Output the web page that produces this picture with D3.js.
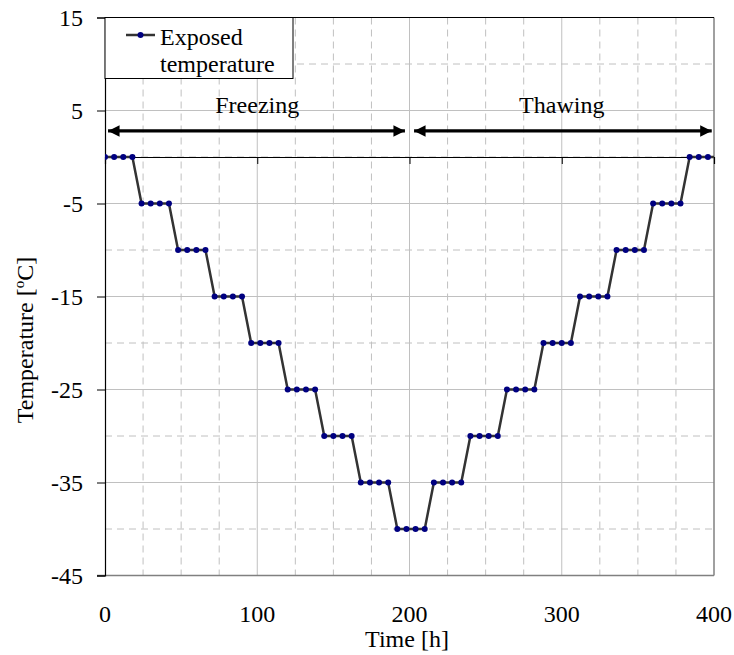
<!DOCTYPE html>
<html>
<head>
<meta charset="utf-8">
<script src="https://cdn.jsdelivr.net/npm/d3@7/dist/d3.min.js"></script>
<style>
body { margin: 0; background: #fff; }
text { font-family: "Times New Roman", "Liberation Serif", serif; fill: #000; }
</style>
</head>
<body>
<script>
var width = 734;
var height = 655;

// exposed temperature, one point every 6 h
var times = [0, 6, 12, 18, 24, 30, 36, 42, 48, 54, 60, 66, 72, 78, 84, 90,
             96, 102, 108, 114, 120, 126, 132, 138, 144, 150, 156, 162, 168, 174, 180, 186,
             192, 198, 204, 210, 216, 222, 228, 234, 240, 246, 252, 258, 264, 270, 276, 282,
             288, 294, 300, 306, 312, 318, 324, 330, 336, 342, 348, 354, 360, 366, 372, 378,
             384, 390, 396, 402];
var temps = [0, 0, 0, 0, -5, -5, -5, -5, -10, -10, -10, -10, -15, -15, -15, -15,
             -20, -20, -20, -20, -25, -25, -25, -25, -30, -30, -30, -30, -35, -35, -35, -35,
             -40, -40, -40, -40, -35, -35, -35, -35, -30, -30, -30, -30, -25, -25, -25, -25,
             -20, -20, -20, -20, -15, -15, -15, -15, -10, -10, -10, -10, -5, -5, -5, -5,
             0, 0, 0, 0];

var xTicks = [0, 100, 200, 300, 400];
var xMinor = [25, 50, 75, 125, 150, 175, 225, 250, 275, 325, 350, 375];
var yTicks = [15, 5, -5, -15, -25, -35, -45];
var yMinor = [10, 0, -10, -20, -30, -40];

var phases = [
  {name: "Freezing", from: 2, to: 197, mid: 100},
  {name: "Thawing", from: 203, to: 398.5, mid: 300}
];

var fs = 24;
var margin = {left: 105, right: 20, top: 17.5, bottom: 79.5};
var x = d3.scaleLinear().domain([0, 400]).range([margin.left, width - margin.right]);
var y = d3.scaleLinear().domain([-45, 15]).range([height - margin.bottom, margin.top]);

var svg = d3.select("body").append("svg")
            .attr("width", width)
            .attr("height", height);

var defs = svg.append("defs");
defs.append("clipPath").attr("id", "plot")
    .append("rect")
    .attr("x", x(0)).attr("y", y(15))
    .attr("width", x(400) - x(0)).attr("height", y(-45) - y(15));
defs.append("marker")
    .attr("id", "head")
    .attr("viewBox", "0 0 10 10")
    .attr("refX", 10).attr("refY", 5)
    .attr("markerWidth", 4.5).attr("markerHeight", 3.6)
    .attr("markerUnits", "strokeWidth")
    .attr("orient", "auto-start-reverse")
    .append("path").attr("d", "M0,0L10,5L0,10z").attr("fill", "#000");

// grid
var grid = svg.append("g");
grid.selectAll(".vmin").data(xMinor).enter().append("line")
    .attr("x1", function(d) { return x(d); }).attr("x2", function(d) { return x(d); })
    .attr("y1", y(15)).attr("y2", y(-45))
    .attr("stroke", "#c0c0c0").attr("stroke-dasharray", "7,5");
grid.selectAll(".hmin").data(yMinor).enter().append("line")
    .attr("y1", function(d) { return y(d); }).attr("y2", function(d) { return y(d); })
    .attr("x1", x(0)).attr("x2", x(400))
    .attr("stroke", "#c0c0c0").attr("stroke-dasharray", "7,5");
grid.selectAll(".vmaj").data(xTicks.slice(1, 4)).enter().append("line")
    .attr("x1", function(d) { return x(d); }).attr("x2", function(d) { return x(d); })
    .attr("y1", y(15)).attr("y2", y(-45))
    .attr("stroke", "#c0c0c0");
grid.selectAll(".hmaj").data(yTicks.slice(1, 6)).enter().append("line")
    .attr("y1", function(d) { return y(d); }).attr("y2", function(d) { return y(d); })
    .attr("x1", x(0)).attr("x2", x(400))
    .attr("stroke", "#c0c0c0");

// frame
svg.append("line").attr("x1", x(400)).attr("x2", x(400)).attr("y1", y(15)).attr("y2", y(-45))
   .attr("stroke", "#808080").attr("stroke-width", 1.5);
svg.append("line").attr("x1", x(0) - 8).attr("x2", x(400)).attr("y1", y(-45)).attr("y2", y(-45))
   .attr("stroke", "#808080").attr("stroke-width", 1.5);
svg.append("line").attr("x1", x(0)).attr("x2", x(400)).attr("y1", y(15)).attr("y2", y(15))
   .attr("stroke", "#000").attr("stroke-width", 1.2);

// y axis
var yAxis = d3.axisLeft(y).tickValues(yTicks).tickSize(8).tickPadding(14)
              .tickFormat(function(d) { return String(d); });
var ya = svg.append("g").attr("transform", "translate(" + x(0) + ",0)").call(yAxis)
            .attr("font-family", null).attr("font-size", null);
ya.select(".domain").attr("stroke", "#000").attr("stroke-width", 1.2);
ya.selectAll(".tick line").attr("stroke", "#000");
ya.selectAll(".tick text").attr("font-size", fs);

// x axis crossing at 0
var xAxis = d3.axisBottom(x).tickValues(xTicks.slice(1, 4)).tickSize(7).tickFormat("");
var xa = svg.append("g").attr("transform", "translate(0," + y(0) + ")").call(xAxis);
xa.select(".domain").attr("stroke", "#000").attr("stroke-width", 1.2);
xa.selectAll(".tick line").attr("stroke", "#000");

// x labels at the bottom
svg.append("g").selectAll("text").data(xTicks).enter().append("text")
   .attr("x", function(d) { return x(d); })
   .attr("y", 622)
   .attr("text-anchor", "middle")
   .attr("font-size", fs)
   .text(function(d) { return d; });

// phase arrows
var ph = svg.append("g");
ph.selectAll("line").data(phases).enter().append("line")
  .attr("x1", function(d) { return x(d.from); })
  .attr("x2", function(d) { return x(d.to); })
  .attr("y1", y(2.8)).attr("y2", y(2.8))
  .attr("stroke", "#000").attr("stroke-width", 3.2)
  .attr("marker-start", "url(#head)").attr("marker-end", "url(#head)");
ph.selectAll("text").data(phases).enter().append("text")
  .attr("x", function(d) { return x(d.mid); })
  .attr("y", y(4.7))
  .attr("text-anchor", "middle")
  .attr("font-size", fs)
  .text(function(d) { return d.name; });

// series
var pts = times.map(function(t, i) { return [t, temps[i]]; });
var series = svg.append("g").attr("clip-path", "url(#plot)");
series.append("path")
      .datum(pts)
      .attr("fill", "none")
      .attr("stroke", "#333")
      .attr("stroke-width", 2.5)
      .attr("d", d3.line().x(function(d) { return x(d[0]); }).y(function(d) { return y(d[1]); }));
series.selectAll("circle").data(pts).enter().append("circle")
      .attr("cx", function(d) { return x(d[0]); })
      .attr("cy", function(d) { return y(d[1]); })
      .attr("r", 3)
      .attr("fill", "#000080");

// legend
var lg = svg.append("g");
lg.append("rect").attr("x", x(0)).attr("y", y(15)).attr("width", 188).attr("height", 61)
  .attr("fill", "#fff").attr("stroke", "#000").attr("stroke-width", 1);
lg.append("line").attr("x1", 126).attr("x2", 155).attr("y1", 35).attr("y2", 35)
  .attr("stroke", "#333").attr("stroke-width", 2.5);
lg.append("circle").attr("cx", 140.5).attr("cy", 35).attr("r", 3).attr("fill", "#000080");
lg.append("text").attr("x", 160).attr("y", 45).attr("font-size", fs).text("Exposed");
lg.append("text").attr("x", 160).attr("y", 72).attr("font-size", fs).text("temperature");

// axis titles
svg.append("text").attr("x", 407).attr("y", 647).attr("text-anchor", "middle")
   .attr("font-size", fs).text("Time [h]");
var yt = svg.append("text")
   .attr("transform", "translate(33,340) rotate(-90)")
   .attr("text-anchor", "middle")
   .attr("font-size", fs);
yt.append("tspan").text("Temperature [");
yt.append("tspan").attr("font-size", 15).attr("dy", -9).text("o");
yt.append("tspan").attr("dy", 9).text("C]");
</script>
</body>
</html>
